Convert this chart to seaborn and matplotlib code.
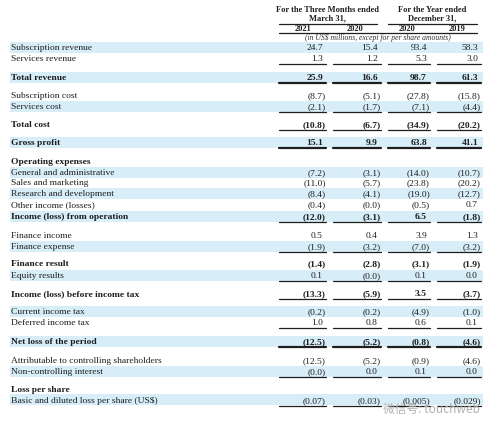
import matplotlib
matplotlib.use("Agg")
import matplotlib.pyplot as plt
import seaborn as sns

# ---- table content ----
labels = [
    "Subscription revenue", "Services revenue", "Total revenue",
    "Subscription cost", "Services cost", "Total cost", "Gross profit",
    "Operating expenses", "General and administrative", "Sales and marketing",
    "Research and development", "Other income (losses)",
    "Income (loss) from operation", "Finance income", "Finance expense",
    "Finance result", "Equity results", "Income (loss) before income tax",
    "Current income tax", "Deferred income tax", "Net loss of the period",
    "Attributable to controlling shareholders", "Non-controlling interest",
    "Loss per share", "Basic and diluted loss per share (US$)",
]
q1_2021 = [24.7, 1.3, 25.9, -8.7, -2.1, -10.8, 15.1, None, -7.2, -11.0, -8.4, -0.4,
           -12.0, 0.5, -1.9, -1.4, 0.1, -13.3, -0.2, 1.0, -12.5, -12.5, -0.0, None, -0.07]
q1_2020 = [15.4, 1.2, 16.6, -5.1, -1.7, -6.7, 9.9, None, -3.1, -5.7, -4.1, -0.0,
           -3.1, 0.4, -3.2, -2.8, -0.0, -5.9, -0.2, 0.8, -5.2, -5.2, 0.0, None, -0.03]
fy_2020 = [93.4, 5.3, 98.7, -27.8, -7.1, -34.9, 63.8, None, -14.0, -23.8, -19.0, -0.5,
           6.5, 3.9, -7.0, -3.1, 0.1, 3.5, -4.9, 0.6, -0.8, -0.9, 0.1, None, -0.005]
fy_2019 = [58.3, 3.0, 61.3, -15.8, -4.4, -20.2, 41.1, None, -10.7, -20.2, -12.7, 0.7,
           -1.8, 1.3, -3.2, -1.9, 0.0, -3.7, -1.0, 0.1, -4.6, -4.6, 0.0, None, -0.029]
eps_decimals = [2, 2, 3, 3]

bold_rows = {"Total revenue", "Total cost", "Gross profit", "Operating expenses",
             "Income (loss) from operation", "Finance result",
             "Income (loss) before income tax", "Net loss of the period", "Loss per share"}
band_rows = {"Subscription revenue", "Total revenue", "Services cost", "Gross profit",
             "General and administrative", "Research and development",
             "Income (loss) from operation", "Finance expense", "Equity results",
             "Current income tax", "Net loss of the period", "Non-controlling interest",
             "Basic and diluted loss per share (US$)"}
single_line = {"Services revenue", "Services cost", "Total cost",
               "Income (loss) from operation", "Finance expense", "Equity results",
               "Income (loss) before income tax", "Deferred income tax",
               "Non-controlling interest", "Basic and diluted loss per share (US$)"}
double_line = {"Total revenue", "Gross profit", "Net loss of the period"}

# layout (pixels, top-down)
row_y = [48, 59, 78, 96, 107, 125, 143, 162, 173, 183, 194, 205, 217, 236, 247,
         264, 276, 294, 312, 323, 342, 361, 372, 390, 401]
col_right = [326, 381, 430, 481]
col_left = [279, 333, 388, 437]
years = ["2021", "2020", "2020", "2019"]

sns.set_theme(style="white")
plt.rcParams["font.family"] = ["Liberation Serif", "DejaVu Serif"]

fig = plt.figure(figsize=(4.99, 4.31), dpi=100)
ax = fig.add_axes([0, 0, 1, 1])
ax.set_xlim(0, 499)
ax.set_ylim(431, 0)
ax.axis("off")

band_color = "#d7eef9"
txt_color = "#1e1e1e"
fs = 6.8


def fmt(v, nd):
    s = f"{abs(v):.{nd}f}"
    if v < 0 or (v == 0 and str(v).startswith("-")):
        return f"({s})"
    return s


# header
hfs = fs - 0.8
ax.text(328, 10, "For the Three Months ended", ha="center", va="center",
        fontsize=hfs, fontweight="bold", color=txt_color)
ax.text(328, 18.5, "March 31,", ha="center", va="center",
        fontsize=hfs, fontweight="bold", color=txt_color)
ax.text(432, 10, "For the Year ended", ha="center", va="center",
        fontsize=hfs, fontweight="bold", color=txt_color)
ax.text(432, 18.5, "December 31,", ha="center", va="center",
        fontsize=hfs, fontweight="bold", color=txt_color)
ax.plot([279, 377], [24.5, 24.5], color=txt_color, lw=0.9)
ax.plot([388, 477], [24.5, 24.5], color=txt_color, lw=0.9)
for xc, yr in zip([303, 355, 407, 457], years):
    ax.text(xc, 29, yr, ha="center", va="center", fontsize=hfs,
            fontweight="bold", color=txt_color)
ax.plot([279, 477], [33.5, 33.5], color=txt_color, lw=0.9)
ax.text(378, 38.5, "(in US$ millions, except for per share amounts)", ha="center",
        va="center", fontsize=fs - 1.3, style="italic", color="#333333")

cols = [q1_2021, q1_2020, fy_2020, fy_2019]
for i, (lab, y) in enumerate(zip(labels, row_y)):
    bold = lab in bold_rows
    if lab in band_rows:
        ax.fill_between([10, 483], y - 5.5, y + 5.5, color=band_color, lw=0)
    ax.text(11, y, lab, ha="left", va="center", fontsize=fs, color=txt_color,
            fontweight="bold" if bold else "normal")
    for j, col in enumerate(cols):
        v = col[i]
        if v is None:
            continue
        nd = eps_decimals[j] if lab.startswith("Basic") else 1
        s = fmt(v, nd)
        x = col_right[j] if s.startswith("(") else col_right[j] - 3
        ax.text(x, y, s, ha="right", va="center", fontsize=fs, color=txt_color,
                fontweight="bold" if bold else "normal")
        if lab in single_line:
            ax.plot([col_left[j], col_right[j]], [y + 6, y + 6], color=txt_color, lw=0.9)
        elif lab in double_line:
            ax.plot([col_left[j], col_right[j]], [y + 6, y + 6], color=txt_color, lw=1.6)

# watermark
ax.text(383, 409, "微信号: touchweb", ha="left", va="center", fontsize=8.5,
        color="#a8a8a8", alpha=0.9, family=["Noto Sans CJK SC", "DejaVu Sans"])

fig.savefig("out.png", dpi=100)
